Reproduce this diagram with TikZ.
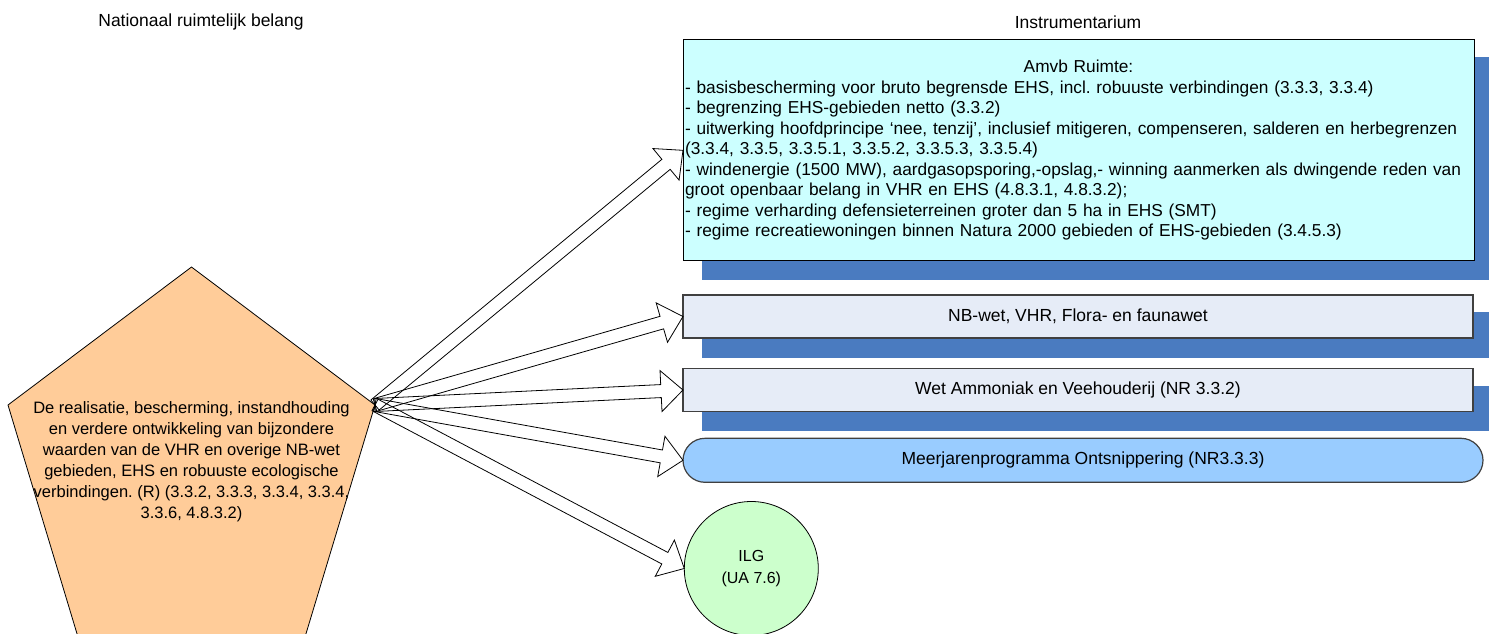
\documentclass[tikz,border=0pt]{standalone}
\usepackage{fontspec}
\setmainfont{Liberation Sans}
\usetikzlibrary{calc,backgrounds,shapes.misc}
\frenchspacing

\definecolor{shadowblue}{HTML}{4A7BC0}
\definecolor{amvbfill}{HTML}{CCFFFF}
\definecolor{wetfill}{HTML}{E6ECF7}
\definecolor{progfill}{HTML}{99CCFF}
\definecolor{ilgfill}{HTML}{CCFFCC}
\definecolor{belangfill}{HTML}{FFCC99}
\definecolor{rimgray}{HTML}{404040}

\newcommand\bigarrow[2]{%
  \draw[bigarrow] let \p1=(#1), \p2=(#2),
      \n1={atan2(\y2-\y1,\x2-\x1)}, \n2={veclen(\x2-\x1,\y2-\y1)} in
    [shift={(\p1)},rotate=\n1]
    (0,6.5) -- ({\n2-22},6.5) -- ({\n2-22},20.5) -- (\n2,0)
    -- ({\n2-22},-20.5) -- ({\n2-22},-6.5) -- (0,-6.5) -- cycle;}

\newcommand\boxshadow[1]{%
  \fill[shadowblue] ([shift={(18.5,17)}]#1.north west) rectangle ([shift={(30,19.5)}]#1.south east);}

\begin{document}
\begin{tikzpicture}[x=1pt,y=-1pt,
		font=\fontsize{17.5}{20.5}\selectfont,
		every node/.style={inner sep=0pt,outer sep=0pt},
		wetbox/.style={draw=rimgray,line width=1.2pt,fill=wetfill,
				minimum width=790pt,minimum height=43pt},
		bigarrow/.style={draw=black,line width=0.8pt,line join=miter}
	]
	\useasboundingbox (0,0) rectangle (1489,634);
	\clip (0,0) rectangle (1489,634);

	\node (kopbelang) at (201,22) {Nationaal ruimtelijk belang};
	\node (kopinstr) at (1078,22) {Instrumentarium};

	\coordinate (tip) at (375,405);
	\draw[fill=belangfill,line width=0.8pt] (191.5,267) -- (tip) -- (305,637) -- (78,637) -- (8,405) -- cycle;
	\node[align=center,font=\fontsize{16.5}{21}\selectfont] (belang) at (191.5,461.5)
	{De realisatie, bescherming, instandhouding\\
		en verdere ontwikkeling van bijzondere\\
		waarden van de VHR en overige NB-wet\\
		gebieden, EHS en robuuste ecologische\\
		verbindingen. (R) (3.3.2, 3.3.3, 3.3.4, 3.3.4,\\
		3.3.6, 4.8.3.2)};

	\node[draw,line width=0.8pt,fill=amvbfill,minimum width=791pt,minimum height=221pt,
		text width=787pt,align=left,font=\fontsize{17.3}{20.5}\selectfont] (amvb) at (1078.5,150.3)
	{\makebox[787pt][c]{Amvb Ruimte:}\\
		- basisbescherming voor bruto begrensde EHS, incl. robuuste verbindingen (3.3.3, 3.3.4)\\
		- begrenzing EHS-gebieden netto (3.3.2)\\
		- uitwerking hoofdprincipe ‘nee, tenzij’, inclusief mitigeren, compenseren, salderen en herbegrenzen\\
		(3.3.4, 3.3.5, 3.3.5.1, 3.3.5.2, 3.3.5.3, 3.3.5.4)\\
		- windenergie (1500 MW), aardgasopsporing,-opslag,- winning aanmerken als dwingende reden van\\
		groot openbaar belang in VHR en EHS (4.8.3.1, 4.8.3.2);\\
		- regime verharding defensieterreinen groter dan 5 ha in EHS (SMT)\\
		- regime recreatiewoningen binnen Natura 2000 gebieden of EHS-gebieden (3.4.5.3)};

	\node[wetbox] (nbwet) at (1078,316.5) {NB-wet, VHR, Flora- en faunawet};
	\node[wetbox] (ammoniak) at (1078,390) {Wet Ammoniak en Veehouderij (NR 3.3.2)};
	\node[rounded rectangle,draw=rimgray,line width=1.2pt,fill=progfill,
		minimum width=800pt,minimum height=44pt] (ontsnippering) at (1083,460.3)
	{Meerjarenprogramma Ontsnippering (NR3.3.3)};
	\node[circle,draw,line width=0.8pt,fill=ilgfill,minimum size=134pt,align=center,
		font=\fontsize{16}{22}\selectfont] (ilg) at (751.3,568.5) {ILG\\(UA 7.6)};

	\begin{scope}[on background layer]
		\boxshadow{amvb}
		\boxshadow{nbwet}
		\boxshadow{ammoniak}
	\end{scope}

	\bigarrow{tip}{amvb.west}
	\bigarrow{tip}{nbwet.west}
	\bigarrow{tip}{ammoniak.west}
	\bigarrow{tip}{ontsnippering.west}
	\bigarrow{tip}{ilg.west}
\end{tikzpicture}
\end{document}
